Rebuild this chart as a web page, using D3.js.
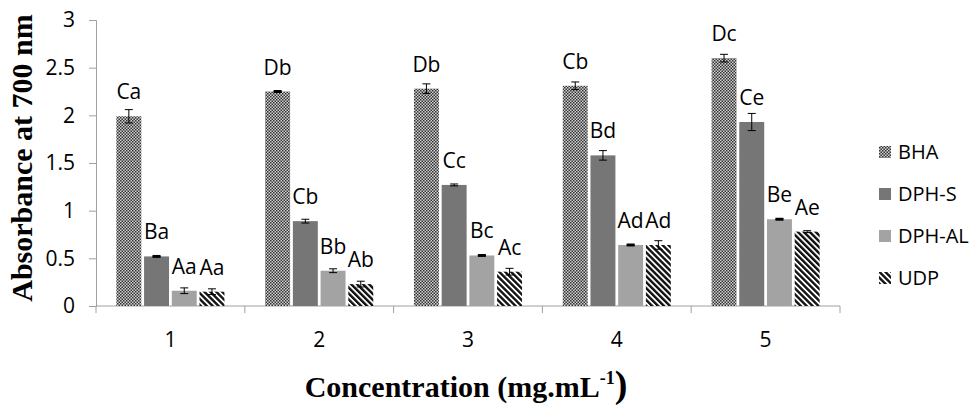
<!DOCTYPE html>
<html><head><meta charset="utf-8">
<script src="https://cdn.jsdelivr.net/npm/d3@7"></script>
<style>body{margin:0;background:#fff}svg{display:block}</style>
</head><body><svg id="c" width="971" height="405"></svg>
<script>
const categories = ["1","2","3","4","5"];
const seriesNames = ["BHA","DPH-S","DPH-AL","UDP"];
const bhaValues   = [1.99, 2.25, 2.28, 2.31, 2.60];
const dphsValues  = [0.52, 0.89, 1.27, 1.58, 1.93];
const dphalValues = [0.16, 0.37, 0.53, 0.64, 0.91];
const udpValues   = [0.15, 0.23, 0.36, 0.64, 0.78];
const bhaErr   = [0.07, 0.005, 0.05, 0.04, 0.04];
const dphsErr  = [0.005, 0.02, 0.01, 0.05, 0.09];
const dphalErr = [0.03, 0.02, 0.005, 0.005, 0.005];
const udpErr   = [0.03, 0.03, 0.035, 0.045, 0.01];
const bhaLabels   = ["Ca","Db","Db","Cb","Dc"];
const dphsLabels  = ["Ba","Cb","Cc","Bd","Ce"];
const dphalLabels = ["Aa","Bb","Bc","Ad","Be"];
const udpLabels   = ["Aa","Ab","Ac","Ad","Ae"];
const yTicks = [0, 0.5, 1, 1.5, 2, 2.5, 3];

const values = [bhaValues, dphsValues, dphalValues, udpValues];
const errs = [bhaErr, dphsErr, dphalErr, udpErr];
const labels = [bhaLabels, dphsLabels, dphalLabels, udpLabels];
const fills = ["url(#pBHA)", "#767676", "#a3a3a3", "url(#pUDP)"];

const svg = d3.select("#c");
const defs = svg.append("defs");
const p1 = defs.append("pattern").attr("id","pBHA").attr("patternUnits","userSpaceOnUse")
  .attr("width",3).attr("height",3);
p1.append("rect").attr("width",3).attr("height",3).attr("fill","#d0d0d0");
p1.append("rect").attr("x",0).attr("y",0).attr("width",1.5).attr("height",1.5).attr("fill","#333");
p1.append("rect").attr("x",1.5).attr("y",1.5).attr("width",1.5).attr("height",1.5).attr("fill","#333");
const p2 = defs.append("pattern").attr("id","pUDP").attr("patternUnits","userSpaceOnUse")
  .attr("width",4.2).attr("height",10).attr("patternTransform","rotate(-45)");
p2.append("rect").attr("width",4.2).attr("height",10).attr("fill","#ffffff");
p2.append("rect").attr("width",2.4).attr("height",10).attr("fill","#111");

const x = d3.scaleBand().domain(categories).range([96, 840]).padding(0);
const xi = d3.scaleBand().domain(seriesNames).range([0, x.bandwidth()])
  .paddingInner(0.1).paddingOuter(0.735);
const y = d3.scaleLinear().domain([0, 3]).range([306, 20]);

const sansFont = "'Open Sans', 'Noto Sans', sans-serif";
const serifFont = "'Liberation Serif','Times New Roman',serif";
const axisColor = "#a0a0a0";

// Y axis
const yAxis = svg.append("g").attr("transform","translate(96,0)")
  .call(d3.axisLeft(y).tickValues(yTicks).tickSizeOuter(0).tickSize(7).tickPadding(14)
    .tickFormat(d => String(d)));
yAxis.selectAll("path,line").attr("stroke", axisColor);
yAxis.selectAll("text").attr("font-family", sansFont).attr("font-size", 21).attr("fill","#000");

// X axis line and boundary ticks
const bounds = categories.map(c => x(c)).concat([x.range()[1]]);
svg.append("line").attr("x1",x.range()[0]).attr("x2",x.range()[1])
  .attr("y1",y(0)).attr("y2",y(0)).attr("stroke",axisColor);
svg.selectAll(".bt").data(bounds).join("line")
  .attr("x1",d=>d).attr("x2",d=>d).attr("y1",y(0)).attr("y2",y(0)+7).attr("stroke",axisColor);
svg.selectAll(".xl").data(categories).join("text")
  .attr("x", d => x(d) + x.bandwidth()/2).attr("y", 347)
  .attr("text-anchor","middle").attr("font-family",sansFont).attr("font-size",21).text(d=>d);

// Bars
seriesNames.forEach((s, si) => {
  const g = svg.append("g");
  const data = categories.map((c, ci) => ({c, v: values[si][ci], e: errs[si][ci], l: labels[si][ci]}));
  g.selectAll("rect").data(data).join("rect")
    .attr("x", d => x(d.c) + xi(s)).attr("width", xi.bandwidth())
    .attr("y", d => y(d.v)).attr("height", d => y(0) - y(d.v))
    .attr("fill", fills[si]);
  const cx = d => x(d.c) + xi(s) + xi.bandwidth()/2;
  g.selectAll(".ev").data(data).join("line")
    .attr("x1", cx).attr("x2", cx).attr("y1", d => y(d.v + d.e)).attr("y2", d => y(d.v - d.e))
    .attr("stroke","#000").attr("stroke-width",1);
  [1, -1].forEach(sign => {
    g.selectAll(".cap"+sign).data(data).join("line")
      .attr("x1", d => cx(d) - 4).attr("x2", d => cx(d) + 4)
      .attr("y1", d => y(d.v + sign*d.e)).attr("y2", d => y(d.v + sign*d.e))
      .attr("stroke","#000").attr("stroke-width", d => d.e < 0.01 ? 2 : 1);
  });
  g.selectAll("text").data(data).join("text")
    .attr("x", cx).attr("y", d => y(d.v) - 17)
    .attr("text-anchor","middle").attr("font-family",sansFont).attr("font-size",21)
    .attr("fill","#000").text(d => d.l);
});

// Legend
const legY = [152, 194, 236, 278];
const leg = svg.append("g");
seriesNames.forEach((s, si) => {
  leg.append("rect").attr("x",879).attr("y",legY[si]-6).attr("width",12).attr("height",12).attr("fill",fills[si]);
  leg.append("text").attr("x",898).attr("y",legY[si]+7).attr("font-family",sansFont)
    .attr("font-size",20).attr("fill","#000").text(s);
});

// Axis titles
svg.append("text").attr("transform","translate(32,158) rotate(-90)")
  .attr("text-anchor","middle").attr("font-family",serifFont)
  .attr("font-weight","bold").attr("font-size",30).text("Absorbance at 700 nm");
const xt = svg.append("text").attr("x",466).attr("y",397).attr("text-anchor","middle")
  .attr("font-family",serifFont).attr("font-weight","bold").attr("font-size",30);
xt.append("tspan").text("Concentration (mg.mL");
xt.append("tspan").attr("font-size",18).attr("dy",-13).text("-1");
xt.append("tspan").attr("font-size",38).attr("dy",13).text(")");
</script></body></html>
